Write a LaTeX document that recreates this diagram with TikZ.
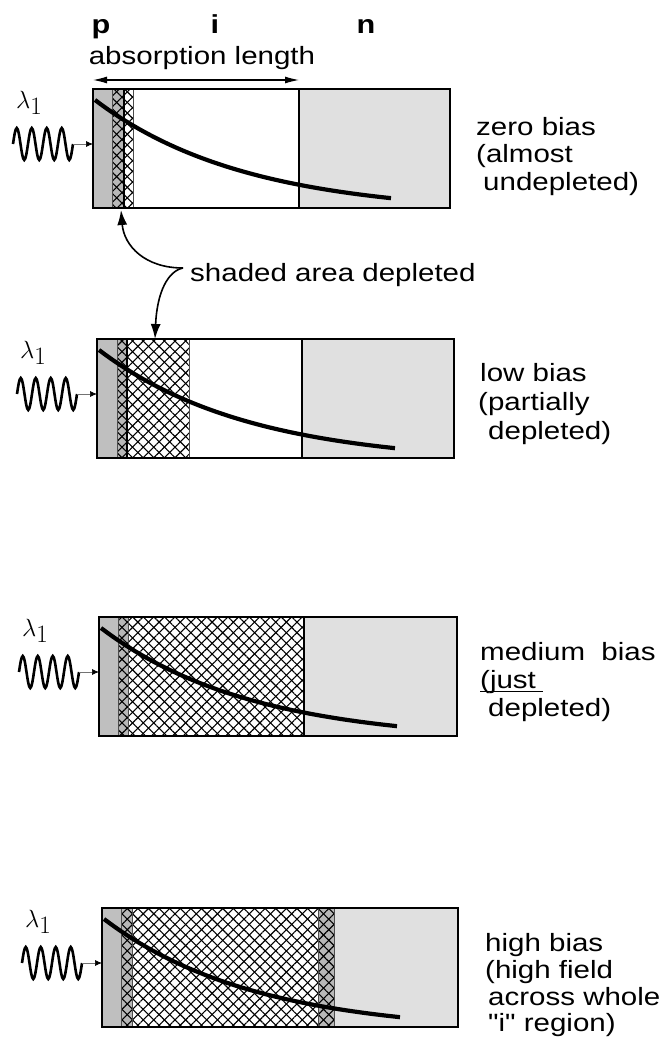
\documentclass[tikz,border=0pt]{standalone}
\usepackage{fontspec}
\usetikzlibrary{patterns.meta,arrows.meta}
\newfontfamily\hv[FakeStretch=1.18]{Liberation Sans}
\definecolor{pgray}{gray}{0.75}
\definecolor{ngray}{gray}{0.88}
\definecolor{hgray}{gray}{0.72}
\tikzset{
  xha/.style={pattern={Lines[angle=45,distance=7.5pt,line width=1.1pt]},pattern color=black},
  xhb/.style={pattern={Lines[angle=-45,distance=7.5pt,line width=1.1pt]},pattern color=black},
  outline/.style={line width=2.8pt},
  thinsep/.style={line width=0.8pt,black!70},
  midsep/.style={line width=1.6pt},
  nsep/.style={line width=2.2pt},
  absorb/.style={line width=4.2pt},
  wave/.style={line width=2.6pt},
  inarrow/.style={line width=0.7pt,black!55,-{Latex[length=7pt,width=6pt,black]}},
  lab/.style={font=\hv\fontsize{25}{29}\selectfont,inner sep=0pt,anchor=base west},
  reg/.style={font=\hv\bfseries\fontsize{26}{29}\selectfont,inner sep=0pt,anchor=base},
  lam/.style={font=\rmfamily\fontsize{25}{25}\selectfont,inner sep=0pt,anchor=base west},
  bigarrow/.style={line width=1.6pt,-{Latex[length=15pt,width=10pt]}},
  dimarrow/.style={line width=1.1pt,{Latex[length=14pt,width=7pt]}-{Latex[length=14pt,width=7pt]}},
}
% #1 L, #2 T, #3 R, #4 p-end
\newcommand\devbase[4]{%
  \fill[white] (#1,#2) rectangle (#3,{#2+119});
  \fill[pgray] (#1,#2) rectangle (#4,{#2+119});
}
% #1 x1, #2 x2, #3 T, #4 background
\newcommand\hatchreg[4]{%
  \fill[#4] (#1,#3) rectangle (#2,{#3+119});
  \fill[xha] (#1,#3) rectangle (#2,{#3+119});
  \fill[xhb] (#1,#3) rectangle (#2,{#3+119});
}
% #1 x1, #2 x2, #3 T
\newcommand\nreg[3]{\fill[ngray] (#1,#3) rectangle (#2,{#3+119});}
% #1 x, #2 T, #3 style
\newcommand\sep[3]{\draw[#3] (#1,#2) -- (#1,{#2+119});}
% #1 L, #2 T, #3 R, #4 name
\newcommand\devtop[4]{%
  \draw[absorb] plot[domain=0:296,samples=90] ({#1+2+\x},{#2+11+114*(1-exp(-\x/150))});
  \draw[outline] (#1,#2) rectangle (#3,{#2+119});
  \coordinate (ws#4) at ({#1-80},{#2+55});
  \draw[wave] (ws#4) sin ++(3.75,-16) cos ++(3.75,16) sin ++(3.75,16) cos ++(3.75,-16)
    sin ++(3.75,-16) cos ++(3.75,16) sin ++(3.75,16) cos ++(3.75,-16)
    sin ++(3.75,-16) cos ++(3.75,16) sin ++(3.75,16) cos ++(3.75,-16)
    sin ++(3.75,-16) cos ++(3.75,16) sin ++(3.75,16) cos ++(3.75,-16) coordinate (we#4);
  \coordinate (in#4) at (#1,{#2+55});
  \draw[inarrow] (we#4) -- (in#4);
  \node[lab,lam] (lam#4) at ({#1-77},{#2+19}) {$\lambda$\raisebox{-6pt}{1}};
}
\begin{document}
\begin{tikzpicture}[x=1pt,y=-1pt]
\useasboundingbox[fill=white] (0,0) rectangle (668,1057);

% region labels
\node[reg] (pl) at (101,34) {p};
\node[reg] (il) at (215,34) {i};
\node[reg] (nl) at (366,34) {n};
\node[lab,anchor=base] (abs) at (202,65) {absorption length};
\coordinate (absL) at (93,80);
\coordinate (absR) at (299,80);
\draw[dimarrow] (absL) -- (absR);

% ---- box 1: zero bias
\devbase{93}{89}{450}{112}
\hatchreg{112}{124}{89}{hgray}
\hatchreg{124}{133}{89}{white}
\nreg{299}{450}{89}
\sep{112}{89}{thinsep}
\sep{124}{89}{midsep}
\sep{133}{89}{thinsep}
\sep{299}{89}{nsep}
\devtop{93}{89}{450}{a}
\node[lab] (za) at (476,135) {zero bias};
\node[lab] (zb) at (476,162) {(almost};
\node[lab] (zc) at (483,190) {undepleted)};

% ---- box 2: low bias
\devbase{97}{339}{454}{117}
\hatchreg{117}{127}{339}{hgray}
\hatchreg{127}{189}{339}{white}
\nreg{302}{454}{339}
\sep{117}{339}{thinsep}
\sep{127}{339}{midsep}
\sep{189}{339}{thinsep}
\sep{302}{339}{nsep}
\devtop{97}{339}{454}{b}
\node[lab] (la) at (480,381) {low bias};
\node[lab] (lb) at (478,410) {(partially};
\node[lab] (lc) at (488,439) {depleted)};

% ---- box 3: medium bias
\devbase{99}{617}{457}{118}
\hatchreg{118}{128}{617}{hgray}
\hatchreg{128}{304}{617}{white}
\nreg{304}{457}{617}
\sep{118}{617}{thinsep}
\sep{128}{617}{thinsep}
\sep{304}{617}{nsep}
\devtop{99}{617}{457}{c}
\node[lab] (ma) at (480,660) {medium\ \ bias};
\node[lab] (mb) at (480,688) {(just};
\draw[line width=1pt] ([yshift=-3pt]mb.base west) -- ++(63,0);
\node[lab] (mc) at (488,716) {depleted)};

% ---- box 4: high bias
\devbase{102}{908}{458}{121}
\hatchreg{121}{132}{908}{hgray}
\hatchreg{132}{318}{908}{white}
\hatchreg{318}{334}{908}{hgray}
\nreg{334}{458}{908}
\sep{121}{908}{thinsep}
\sep{132}{908}{thinsep}
\sep{318}{908}{thinsep}
\sep{334}{908}{thinsep}
\devtop{102}{908}{458}{d}
\node[lab] (ha) at (485,951) {high bias};
\node[lab] (hb) at (485,978) {(high field};
\node[lab] (hc) at (488,1005) {across whole};
\node[lab] (hd) at (488,1031) {"i" region)};

% ---- shaded area depleted
\node[lab] (sad) at (190,281) {shaded area depleted};
\coordinate (junc) at (183,268);
\coordinate (tipA) at (121,210);
\coordinate (tipB) at (155,339);
\draw[bigarrow] (junc) .. controls (145,268) and (124,246) .. (tipA);
\draw[bigarrow] (junc) .. controls (168,271) and (157,292) .. (tipB);
\end{tikzpicture}
\end{document}
